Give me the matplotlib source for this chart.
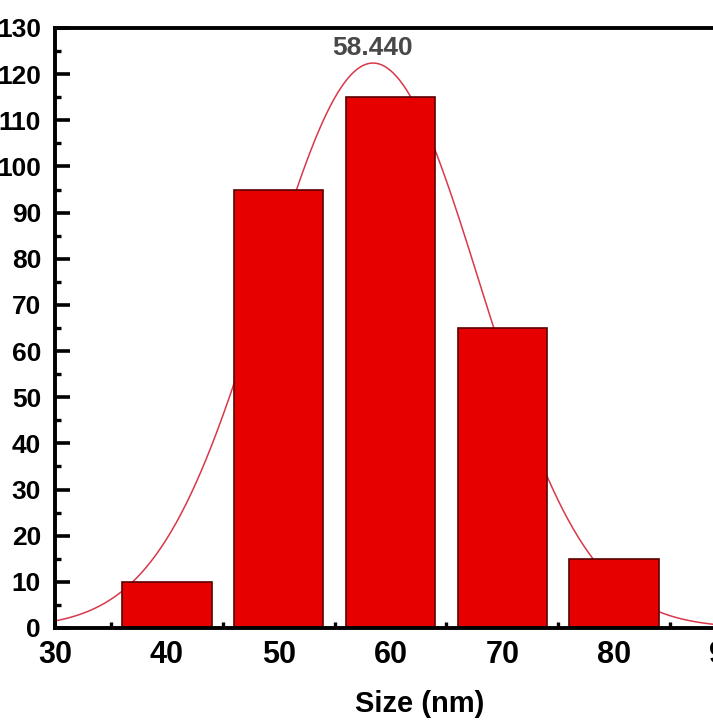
import numpy as np
import matplotlib
matplotlib.use("Agg")
import matplotlib.pyplot as plt
from matplotlib.ticker import MultipleLocator

plt.rcParams["font.family"] = ["Liberation Sans", "DejaVu Sans"]

# histogram bins (nm) and counts
sizes = [40, 50, 60, 70, 80]
counts = [10, 95, 115, 65, 15]

# gaussian fit parameters
fit_amp = 122.4
fit_mean = 58.44
fit_sigma = 9.6
peak_label = "58.440"

fig = plt.figure(figsize=(7.13, 7.25), dpi=100)
ax = fig.add_axes([0.0771, 0.1338, 0.941, 0.8276])

ax.bar(sizes, counts, width=8, color="#e60000", edgecolor="#5a0000", linewidth=1.2, zorder=2)

xs = np.linspace(30, 90, 400)
ys = fit_amp * np.exp(-(xs - fit_mean) ** 2 / (2 * fit_sigma ** 2))
ax.plot(xs, ys, color="#d8384c", linewidth=1.1, zorder=1)

ax.text(fit_mean, 125.6, peak_label, ha="center", va="center", fontsize=19,
        fontweight="bold", color="#484848")

ax.set_xlim(30, 90)
ax.set_ylim(0, 130)
ax.xaxis.set_major_locator(MultipleLocator(10))
ax.xaxis.set_minor_locator(MultipleLocator(5))
ax.yaxis.set_major_locator(MultipleLocator(10))
ax.yaxis.set_minor_locator(MultipleLocator(5))

ax.tick_params(which="both", direction="in", color="black")
ax.tick_params(which="major", length=11, width=2.6)
ax.tick_params(which="minor", length=4.5, width=2.4)
ax.tick_params(axis="x", which="major", labelsize=22, pad=9)
ax.tick_params(axis="y", which="major", labelsize=19, pad=10)
for lab in ax.get_xticklabels() + ax.get_yticklabels():
    lab.set_fontweight("bold")

for s in ax.spines.values():
    s.set_linewidth(2.8)
    s.set_zorder(6)

ax.set_xlabel("Size (nm)", fontsize=21, fontweight="bold")
ax.xaxis.set_label_coords(0.544, -0.104)

fig.savefig("out.png", dpi=100)
